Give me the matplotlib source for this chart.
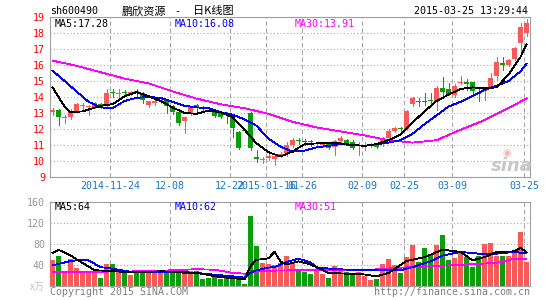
import matplotlib
matplotlib.use("Agg")
import matplotlib.pyplot as plt

W, H = 545, 300

# daily candles, index 0 = first session shown
opens = [13.06, 13.19, 12.69, 12.75, 13.15, 13.42, 13.36, 13.40, 13.55, 13.50,
         14.27, 14.20, 14.30, 14.20, 14.35, 14.25, 13.50, 13.60, 13.76, 13.85,
         13.45, 13.05, 12.50, 13.00, 13.50, 13.40, 13.30, 13.08, 13.00, 13.00,
         12.77, 11.83, 11.90, 13.00, 10.20, 10.08, 10.20, 10.12, 10.30, 10.50,
         10.98, 11.28, 11.26, 11.22, 11.05, 11.00, 11.08, 10.85, 11.25, 11.31,
         11.20, 10.92, 10.95, 10.95, 10.98, 11.10, 11.42, 11.87, 12.04, 12.00,
         13.54, 13.74, 13.74, 13.80, 13.67, 14.54, 14.48, 14.13, 14.85, 14.96,
         14.96, 14.25, 14.40, 14.60, 15.30, 16.15, 16.00, 16.35, 17.35, 18.00]
closes = [13.19, 12.73, 12.77, 13.15, 13.54, 13.46, 13.42, 13.60, 13.45, 14.23,
          14.22, 14.26, 14.25, 14.32, 14.28, 13.80, 13.72, 13.77, 13.82, 13.45,
          13.05, 12.40, 12.72, 13.35, 13.38, 13.28, 13.22, 12.82, 12.76, 12.95,
          12.05, 10.82, 11.88, 10.80, 10.15, 10.12, 10.33, 10.30, 10.46, 10.98,
          11.30, 11.24, 11.20, 11.18, 11.12, 11.08, 10.82, 11.25, 11.42, 11.10,
          10.82, 10.96, 11.00, 11.02, 10.86, 11.42, 11.87, 12.04, 12.00, 13.13,
          13.92, 13.70, 13.70, 13.76, 14.58, 14.33, 14.20, 14.69, 14.92, 14.81,
          14.40, 14.21, 14.60, 15.17, 16.20, 16.00, 16.31, 17.04, 18.40, 18.65]
highs = [13.30, 13.23, 12.88, 13.23, 13.60, 13.65, 13.50, 13.70, 13.65, 14.48,
         14.50, 14.50, 14.45, 14.40, 14.50, 14.30, 13.76, 13.85, 13.90, 13.90,
         13.50, 13.10, 12.78, 13.40, 13.55, 13.45, 13.35, 13.15, 13.05, 13.05,
         12.85, 11.88, 11.90, 13.05, 10.70, 10.25, 10.42, 10.40, 10.55, 11.20,
         11.42, 11.42, 11.38, 11.30, 11.20, 11.15, 11.10, 11.30, 11.55, 11.40,
         11.30, 11.20, 11.20, 11.10, 11.00, 11.50, 11.98, 12.15, 12.15, 13.19,
         13.98, 13.92, 14.23, 14.23, 14.69, 15.27, 14.85, 14.81, 15.30, 15.15,
         14.96, 14.54, 14.65, 15.48, 16.52, 16.52, 16.40, 17.15, 18.60, 18.85]
lows = [12.90, 12.23, 12.40, 12.60, 13.10, 13.20, 12.90, 13.33, 13.30, 13.42,
        14.00, 14.00, 14.05, 14.15, 14.00, 13.60, 13.40, 13.50, 13.60, 13.00,
        12.95, 12.25, 11.77, 12.90, 13.15, 13.20, 13.10, 12.75, 12.70, 12.40,
        11.50, 10.78, 11.88, 10.70, 9.95, 9.90, 10.05, 9.75, 10.25, 10.30,
        10.85, 11.05, 10.98, 10.95, 10.95, 10.90, 10.78, 10.38, 11.20, 11.00,
        10.75, 10.40, 10.70, 10.85, 10.80, 10.95, 11.31, 11.80, 11.90, 11.94,
        13.44, 13.46, 13.50, 13.55, 13.19, 14.13, 14.10, 13.98, 14.80, 14.44,
        14.06, 13.77, 13.80, 14.55, 15.06, 15.69, 15.95, 16.30, 16.80, 17.80]
# volume in units of 10k lots (x万)
volumes = [49, 56.5, 28, 51, 33.6, 24.8, 24.8, 24.8, 15.2, 41,
           41, 30, 24.8, 21, 28, 24.8, 24.8, 24.8, 28, 24.8,
           31.7, 30, 30, 28, 28, 12.7, 15.2, 17, 12.7, 15.2,
           18.4, 18.4, 4.4, 133, 75.5, 44, 41, 40, 44, 56.5,
           45.7, 31.1, 26.7, 23.5, 31.1, 22.2, 15.9, 37.5, 33, 26.7,
           22.2, 26.7, 18.4, 10.8, 12.7, 41.3, 50.8, 39.4, 24.8, 55.2,
           77.5, 45.7, 73, 58.4, 77.5, 96.5, 49, 53, 65, 55,
           37, 58, 80.5, 82, 58, 58, 58, 68.5, 103, 45]

# moving average lines, read at a subset of sessions
ma5_idx = [0, 2, 3, 5, 8, 10, 12, 14, 16, 18, 20, 22, 24, 26, 28, 30, 32, 34, 36, 38, 40,
           42, 44, 46, 48, 50, 52, 54, 56, 58, 60, 62, 64, 66, 68, 70, 72, 74, 76, 78, 79]
ma5_val = [14.6, 13.4, 13.05, 13.1, 13.45, 13.55, 14.05, 14.3, 14.05, 13.75, 13.35, 13.0,
           12.95, 13.15, 13.05, 12.75, 11.95, 11.1, 10.55, 10.28, 10.6, 11.05, 11.1, 11.1,
           11.1, 11.0, 10.95, 11.05, 11.3, 11.65, 12.4, 13.1, 13.75, 14.15, 14.5, 14.6,
           14.55, 14.6, 15.4, 16.5, 17.28]
ma10_idx = [0, 2, 4, 6, 8, 10, 12, 14, 16, 18, 20, 22, 24, 26, 28, 30, 32, 34, 36, 38, 40,
            42, 44, 46, 48, 50, 52, 54, 56, 58, 60, 62, 64, 66, 68, 70, 72, 74, 76, 78, 79]
ma10_val = [15.65, 15.0, 14.35, 13.7, 13.35, 13.3, 13.75, 13.95, 14.0, 13.95, 13.7, 13.45,
            13.35, 13.3, 13.05, 12.9, 12.6, 12.2, 11.4, 10.9, 10.58, 10.65, 10.85, 10.95,
            11.05, 11.0, 10.95, 11.05, 11.15, 11.3, 11.7, 12.3, 12.85, 13.4, 13.7, 14.05,
            14.45, 14.7, 15.0, 15.6, 16.08]
ma30_idx = [0, 4, 8, 12, 16, 20, 24, 28, 32, 36, 40, 44, 48, 52, 56, 60, 64, 68, 72, 76, 79]
ma30_val = [16.27, 15.95, 15.55, 15.15, 14.85, 14.35, 13.9, 13.55, 13.3, 12.95, 12.45,
            12.1, 11.85, 11.6, 11.3, 11.15, 11.3, 11.95, 12.55, 13.3, 13.91]

vma5_idx = [0, 1, 3, 5, 7, 9, 11, 13, 16, 18, 21, 24, 26, 28, 30, 32, 33, 34, 35, 36, 37,
            38, 39, 41, 43, 44, 46, 49, 52, 54, 56, 59, 62, 65, 68, 70, 72, 74, 77, 78, 79]
vma5_val = [63, 69, 58, 44, 30, 29, 27.5, 26.7, 27, 28, 27, 25, 21, 17, 15, 12.7, 38, 50,
            51, 53, 65, 47, 41, 47, 41, 36, 25, 23.5, 22, 18.4, 25, 47.6, 55, 69, 65, 49,
            55, 65, 66, 73, 64]
vma10_idx = [0, 3, 5, 6, 8, 10, 13, 18, 24, 30, 32, 33, 34, 36, 37, 39, 41, 43, 44, 48,
             52, 58, 60, 63, 65, 68, 71, 74, 77, 79]
vma10_val = [39.4, 47.5, 50, 49, 36, 33, 27, 26.7, 24.8, 18.4, 15.9, 25, 30, 35, 36, 45.7,
             52, 45, 35, 31.7, 30, 30, 36, 47, 58, 65, 61.6, 61.6, 65, 62]
vma30_idx = [0, 16, 24, 27, 30, 32, 35, 41, 52, 58, 63, 69, 74, 77, 79]
vma30_val = [26.7, 28, 32, 31, 25, 23.5, 29, 30, 30, 35, 37.5, 41, 44, 52, 51]

tick_idx = [10, 20, 30, 36, 42, 52, 59, 67, 79]
tick_labels = ['2014-11-24', '12-08', '12-22', '2015-01-16', '01-26',
               '02-09', '02-25', '03-09', '03-25']
price_ticks = list(range(9, 20))
vol_ticks = [0, 40, 80, 120, 160]

UP = '#f85a5a'
DOWN = '#0a9e0a'
GRID = '#a8a8a8'
MONO = 'DejaVu Sans Mono'
CJK = ['Noto Sans CJK SC', 'DejaVu Sans']
LW = 0.6  # ~1 px when drawn without antialiasing


def fx(x):
    return x / W


def fy(y):
    return 1 - y / H


plt.rcParams['font.family'] = MONO
fig = plt.figure(figsize=(W / 100, H / 100), dpi=100)
ax = fig.add_axes([fx(50), fy(177), 480 / W, 160 / H])
axv = fig.add_axes([fx(50), fy(286), 480 / W, 84 / H])

n = len(closes)
xs = list(range(n))
cols = [UP if c >= o else DOWN for o, c in zip(opens, closes)]
grid_x = [i - 0.42 for i in tick_idx]

for a in (ax, axv):
    a.set_xlim(-0.42, n - 0.42)
    a.set_axisbelow(True)
    for s in a.spines.values():
        s.set_color('#a0a0a0')
        s.set_linewidth(0.8)
    a.set_xticks(grid_x)
    a.grid(True, axis='y', color=GRID, linestyle=(0, (1, 2)), lw=0.8)
    a.grid(True, axis='x', color=GRID, linestyle=(0, (4, 2.5)), lw=0.8)
    a.tick_params(length=0)

# price panel (crisp strokes like the original bitmap chart)
ax.vlines(xs, lows, highs, colors=cols, lw=LW, zorder=2, antialiased=False)
bodies = [max(abs(c - o), 0.07) for o, c in zip(opens, closes)]
bottoms = [min(o, c) for o, c in zip(opens, closes)]
ax.bar(xs, bodies, bottom=bottoms, width=0.75, color=cols, lw=0, zorder=3,
       antialiased=False)
ax.plot(ma30_idx, ma30_val, color='#ff00ff', lw=LW, zorder=4, antialiased=False)
ax.plot(ma10_idx, ma10_val, color='#0000ff', lw=LW, zorder=4, antialiased=False)
ax.plot(ma5_idx, ma5_val, color='black', lw=LW, zorder=5, antialiased=False)
ax.set_ylim(9, 19)
ax.set_yticks(price_ticks)
ax.tick_params(axis='y', pad=3.6, labelcolor='#ff0000', labelsize=7.2)
ax.set_xticklabels(tick_labels)
ax.tick_params(axis='x', pad=3, labelcolor='#1778cc', labelsize=7.2)

# volume panel
axv.bar(xs, volumes, width=0.8, color=cols, lw=0, zorder=3, antialiased=False)
axv.plot(vma30_idx, vma30_val, color='#ff00ff', lw=LW, zorder=4, antialiased=False)
axv.plot(vma10_idx, vma10_val, color='#0000ff', lw=LW, zorder=4, antialiased=False)
axv.plot(vma5_idx, vma5_val, color='black', lw=LW, zorder=5, antialiased=False)
axv.set_ylim(0, 160)
axv.set_yticks(vol_ticks)
axv.set_yticklabels(['x万'] + [str(v) for v in vol_ticks[1:]])
axv.tick_params(axis='y', pad=3.6, labelcolor='#999999', labelsize=7.2)
unit = axv.get_yticklabels()[0]
unit.set_family(CJK)
unit.set_color('#c4c4c4')
axv.set_xticklabels([])

# header
fig.text(fx(50), fy(11), 'sh600490', fontsize=7.2, va='center')
fig.text(fx(122), fy(11), '鹏欣资源', family=CJK, fontsize=8, va='center')
fig.text(fx(177.5), fy(11), '-', fontsize=7.2, va='center', ha='center')
fig.text(fx(193), fy(11), '日K线图', family=CJK, fontsize=8, va='center')
fig.text(fx(528), fy(11), '2015-03-25 13:29:44', fontsize=7.2, va='center', ha='right')

# MA legends
for lx, name, val, col in [(55, 'MA5', ma5_val[-1], 'black'),
                           (175, 'MA10', ma10_val[-1], '#0000ff'),
                           (295, 'MA30', ma30_val[-1], '#ff00ff')]:
    fig.text(fx(lx), fy(24), f'{name}:{val:.2f}', color=col, fontsize=7.2, va='center')
for lx, name, val, col in [(55, 'MA5', vma5_val[-1], 'black'),
                           (175, 'MA10', vma10_val[-1], '#0000ff'),
                           (295, 'MA30', vma30_val[-1], '#ff00ff')]:
    fig.text(fx(lx), fy(206.5), f'{name}:{val:.0f}', color=col, fontsize=7.2, va='center')

# watermark
fig.text(fx(507), fy(153), '◉', family='DejaVu Sans', color='#f2b4b4', fontsize=7,
         ha='center', va='center')
fig.text(fx(512), fy(166), 'sina', family='DejaVu Sans', color='#c8c8c8', fontsize=13,
         style='italic', weight='bold', ha='center', va='center')

# footer
fig.text(fx(50), fy(292), 'Copyright 2015 SINA.COM', color='#808080', fontsize=7.2, va='center')
fig.text(fx(530), fy(292), 'http://finance.sina.com.cn', color='#808080', fontsize=7.2,
         va='center', ha='right')

fig.savefig('out.png', dpi=100, facecolor='white')
